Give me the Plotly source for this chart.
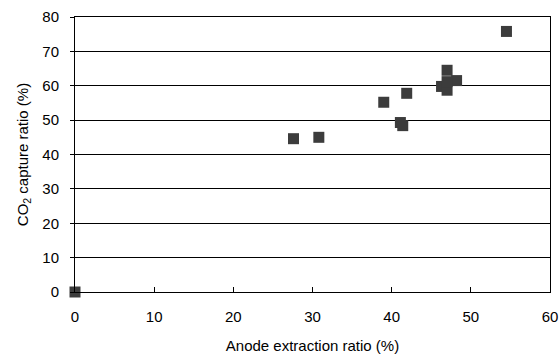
import plotly.graph_objects as go

anode_extraction = [0.0, 27.6, 30.8, 39.0, 41.9, 41.1, 41.4, 47.0, 46.3, 48.2, 47.0, 47.0, 54.5]
co2_capture = [0.0, 44.6, 45.0, 55.2, 57.8, 49.3, 48.4, 64.5, 59.8, 61.5, 58.7, 61.2, 75.8]

x_ticks = [0, 10, 20, 30, 40, 50, 60]
y_ticks = [0, 10, 20, 30, 40, 50, 60, 70, 80]

font_family = "Liberation Sans, Arial, sans-serif"

fig = go.Figure()
fig.add_trace(go.Scatter(
    x=anode_extraction, y=co2_capture, mode="markers",
    marker=dict(symbol="square", size=11, color="#3c3c3c", line=dict(width=0)),
    cliponaxis=False, showlegend=False,
))

fig.update_layout(
    width=559, height=357,
    margin=dict(l=75, r=9, t=17, b=65),
    paper_bgcolor="white", plot_bgcolor="white",
    font=dict(family=font_family, size=15, color="black"),
    xaxis=dict(
        range=[0, 60], tickvals=x_ticks, ticktext=[str(v) for v in x_ticks],
        showgrid=False, zeroline=False, automargin=False,
        showline=True, linecolor="black", linewidth=1, mirror=True,
        ticks="inside", ticklen=5, tickcolor="black",
        ticklabelstandoff=11,
        title=dict(text="Anode extraction ratio (%)", standoff=16, font=dict(size=15)),
    ),
    yaxis=dict(
        range=[0, 80], tickvals=y_ticks, ticktext=[str(v) for v in y_ticks],
        showgrid=True, gridcolor="black", gridwidth=1, zeroline=False, automargin=False,
        showline=True, linecolor="black", linewidth=1, mirror=True,
        ticks="outside", ticklen=4, tickcolor="black",
        ticklabelstandoff=8,
        title=dict(text="CO<sub>2</sub> capture ratio (%)", standoff=10, font=dict(size=15)),
    ),
)

fig.write_html("out.html", config={"displayModeBar": False},
               post_script="document.body.style.margin='0';")
